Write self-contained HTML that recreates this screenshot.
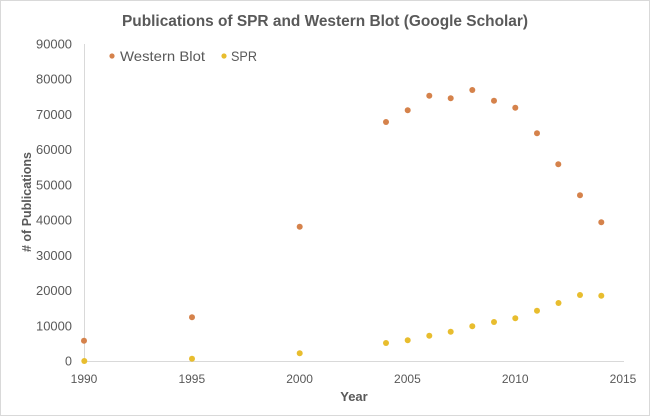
<!DOCTYPE html>
<html>
<head>
<meta charset="utf-8">
<style>
html,body{margin:0;padding:0;background:#fff;}
svg{display:block;}
text{font-family:"Liberation Sans",Arial,sans-serif;fill:#595959;}
</style>
</head>
<body>
<svg width="650" height="416" viewBox="0 0 650 416" xmlns="http://www.w3.org/2000/svg">
<rect x="0.5" y="0.5" width="649" height="415" fill="#fff" stroke="#d9d9d9" stroke-width="1"/>
<text x="325" y="26" font-size="16" font-weight="bold" text-anchor="middle" textLength="406" lengthAdjust="spacingAndGlyphs">Publications of SPR and Western Blot (Google Scholar)</text>

<!-- axes -->
<line x1="84.5" y1="44" x2="84.5" y2="361" stroke="#d9d9d9" stroke-width="1"/>
<line x1="84" y1="361.5" x2="624" y2="361.5" stroke="#d9d9d9" stroke-width="1"/>

<!-- y tick labels -->
<g font-size="12.5" text-anchor="end">
<text x="72" y="365.5">0</text>
<text x="72" y="330.3" textLength="36" lengthAdjust="spacingAndGlyphs">10000</text>
<text x="72" y="295.1" textLength="36" lengthAdjust="spacingAndGlyphs">20000</text>
<text x="72" y="259.8" textLength="36" lengthAdjust="spacingAndGlyphs">30000</text>
<text x="72" y="224.6" textLength="36" lengthAdjust="spacingAndGlyphs">40000</text>
<text x="72" y="189.4" textLength="36" lengthAdjust="spacingAndGlyphs">50000</text>
<text x="72" y="154.2" textLength="36" lengthAdjust="spacingAndGlyphs">60000</text>
<text x="72" y="119.0" textLength="36" lengthAdjust="spacingAndGlyphs">70000</text>
<text x="72" y="83.7" textLength="36" lengthAdjust="spacingAndGlyphs">80000</text>
<text x="72" y="48.5" textLength="36" lengthAdjust="spacingAndGlyphs">90000</text>
</g>

<!-- x tick labels -->
<g font-size="12" text-anchor="middle">
<text x="84" y="383">1990</text>
<text x="191.8" y="383">1995</text>
<text x="299.6" y="383">2000</text>
<text x="407.4" y="383">2005</text>
<text x="515.2" y="383">2010</text>
<text x="623" y="383">2015</text>
</g>

<text x="354" y="401" font-size="13" font-weight="bold" text-anchor="middle">Year</text>
<text transform="translate(31,202) rotate(-90)" x="0" y="0" font-size="13" font-weight="bold" text-anchor="middle" textLength="100" lengthAdjust="spacingAndGlyphs"># of Publications</text>

<!-- legend -->
<circle cx="112" cy="56" r="2.6" fill="#D5824B"/>
<text x="120" y="61" font-size="14" textLength="85" lengthAdjust="spacingAndGlyphs">Western Blot</text>
<circle cx="224" cy="56" r="2.6" fill="#E8BD2E"/>
<text x="231" y="61" font-size="14" textLength="26" lengthAdjust="spacingAndGlyphs">SPR</text>

<!-- Western Blot -->
<g fill="#D5824B">
<circle cx="84" cy="340.7" r="3"/>
<circle cx="192" cy="317.3" r="3"/>
<circle cx="299.7" cy="226.7" r="3"/>
<circle cx="386" cy="122" r="3"/>
<circle cx="407.7" cy="110.3" r="3"/>
<circle cx="429.3" cy="95.7" r="3"/>
<circle cx="450.7" cy="98.3" r="3"/>
<circle cx="472.3" cy="90" r="3"/>
<circle cx="494" cy="100.7" r="3"/>
<circle cx="515.3" cy="107.7" r="3"/>
<circle cx="537" cy="133.3" r="3"/>
<circle cx="558.3" cy="164.3" r="3"/>
<circle cx="580" cy="195.3" r="3"/>
<circle cx="601.3" cy="222.3" r="3"/>
</g>

<!-- SPR -->
<g fill="#E8BD2E">
<circle cx="84.3" cy="361" r="3"/>
<circle cx="192" cy="358.7" r="3"/>
<circle cx="299.7" cy="353.3" r="3"/>
<circle cx="386" cy="343" r="3"/>
<circle cx="407.7" cy="340.3" r="3"/>
<circle cx="429.3" cy="335.7" r="3"/>
<circle cx="450.7" cy="331.7" r="3"/>
<circle cx="472.3" cy="326.3" r="3"/>
<circle cx="494" cy="322" r="3"/>
<circle cx="515.3" cy="318.3" r="3"/>
<circle cx="537" cy="310.7" r="3"/>
<circle cx="558.5" cy="303" r="3"/>
<circle cx="580" cy="295" r="3"/>
<circle cx="601.3" cy="295.7" r="3"/>
</g>
</svg>
</body>
</html>
